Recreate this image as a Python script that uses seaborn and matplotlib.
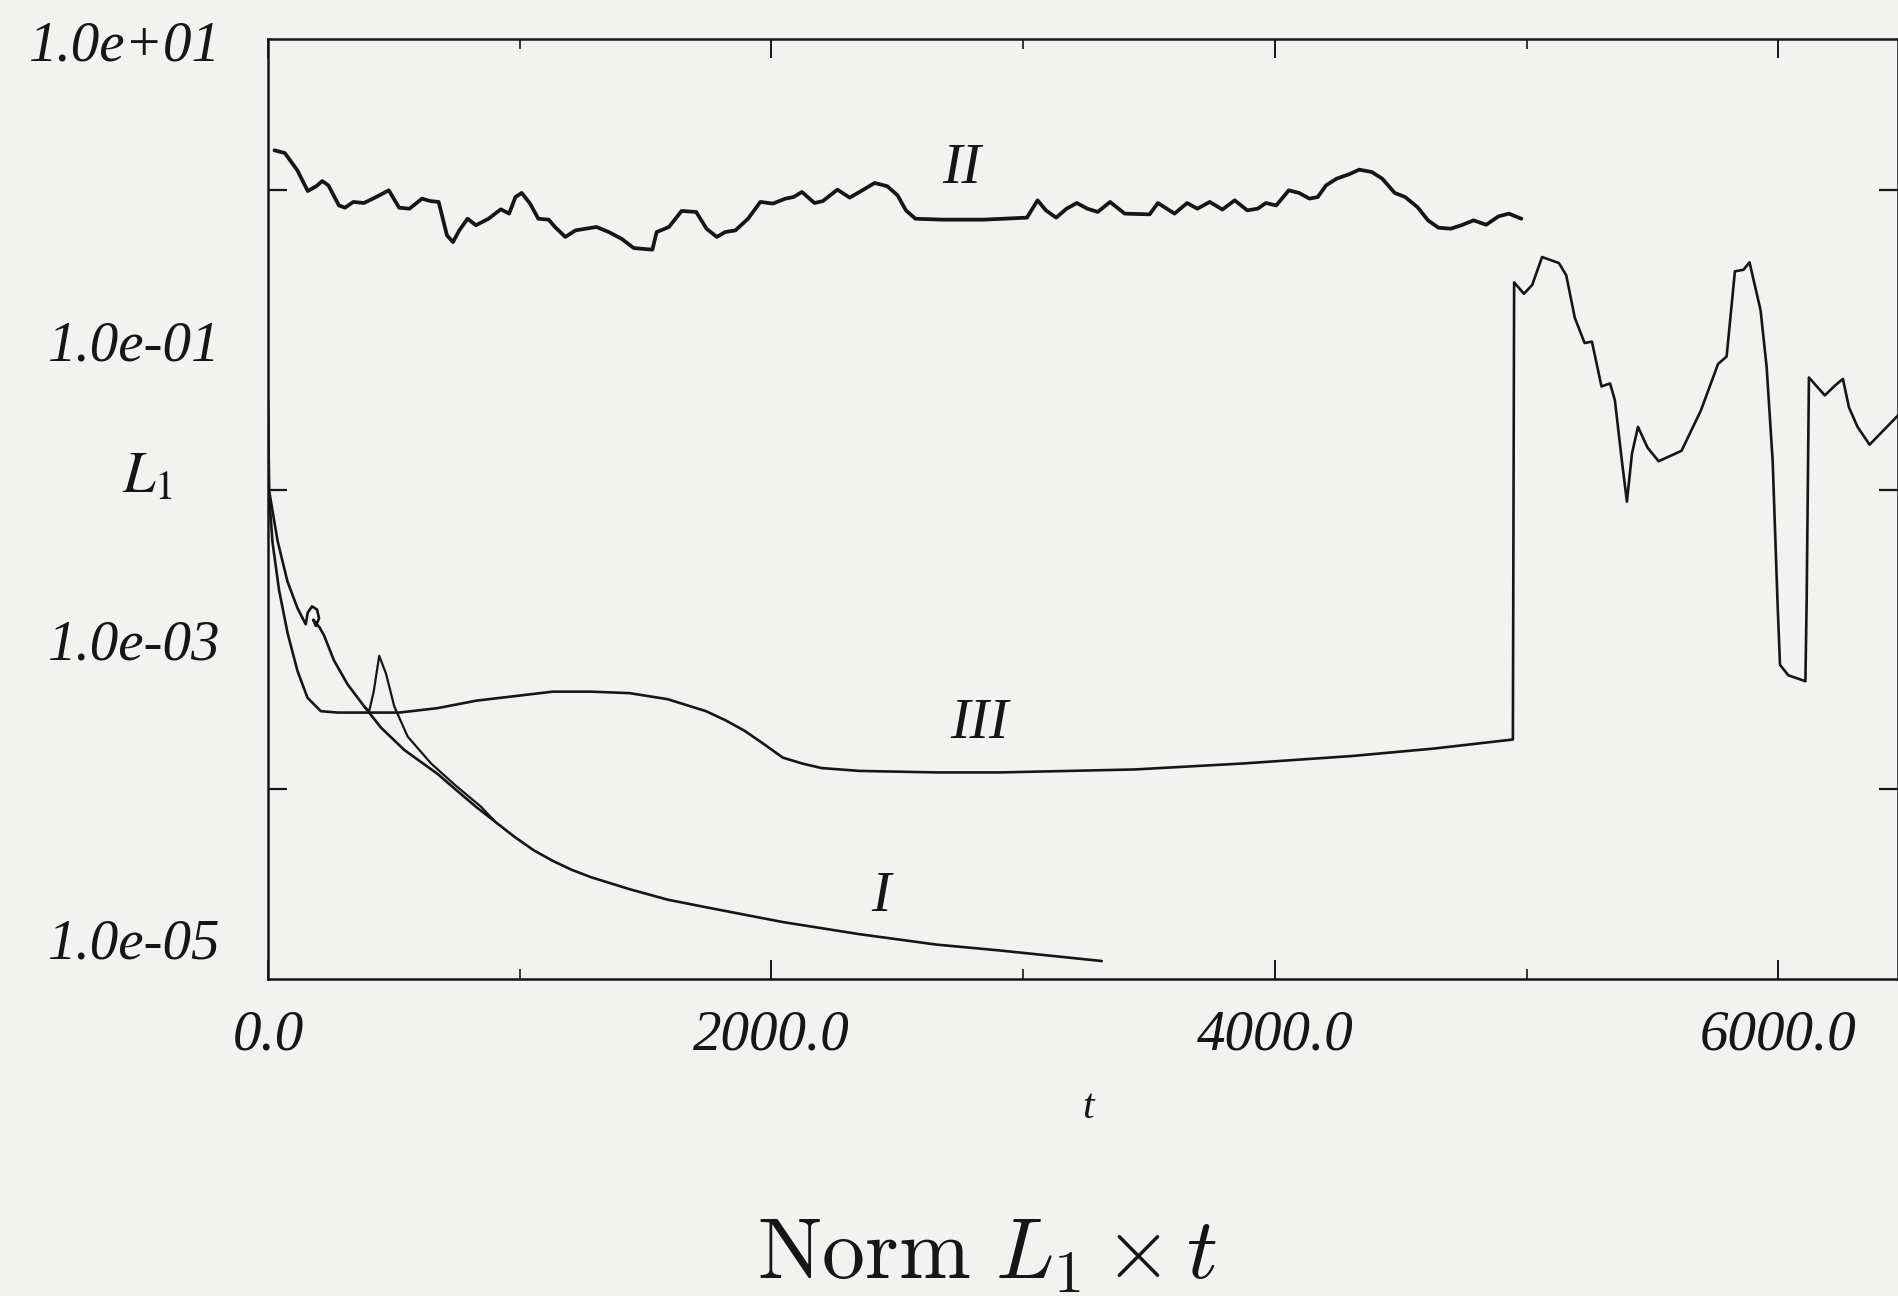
import matplotlib
matplotlib.use("Agg")
import matplotlib.pyplot as plt
import seaborn as sns
import pandas as pd
from matplotlib.ticker import FixedLocator, FixedFormatter, NullFormatter

# ---------------- data ----------------
# Curve II (upper, noisy)
t_II = [26, 67, 117, 158, 191, 216, 240, 282, 306, 339, 381, 430, 480, 521, 562,
        612, 645, 678, 711, 735, 760, 793, 826, 876, 925, 958, 983, 1008, 1041,
        1074, 1115, 1140, 1181, 1222, 1305, 1354, 1404, 1453, 1527, 1544, 1593,
        1643, 1701, 1742, 1783, 1816, 1857, 1907, 1956, 2006, 2055, 2088, 2121,
        2171, 2204, 2262, 2311, 2361, 2410, 2460, 2501, 2534, 2572, 2677, 2842,
        3015, 3057, 3090, 3131, 3172, 3213, 3255, 3296, 3345, 3403, 3502, 3535,
        3601, 3651, 3692, 3741, 3791, 3840, 3890, 3931, 3964, 4005, 4055, 4096,
        4137, 4170, 4203, 4245, 4294, 4335, 4385, 4426, 4476, 4517, 4566, 4608,
        4649, 4698, 4740, 4789, 4839, 4888, 4929, 4979]
L1_II = [1.854, 1.778, 1.361, 0.991, 1.064, 1.156, 1.081, 0.794, 0.767, 0.838,
         0.824, 0.904, 1.002, 0.767, 0.755, 0.881, 0.849, 0.838, 0.501, 0.452,
         0.541, 0.647, 0.585, 0.647, 0.748, 0.700, 0.904, 0.962, 0.817, 0.647,
         0.638, 0.570, 0.489, 0.541, 0.570, 0.527, 0.476, 0.412, 0.402, 0.527,
         0.570, 0.729, 0.718, 0.555, 0.489, 0.527, 0.541, 0.647, 0.838, 0.817,
         0.881, 0.904, 0.977, 0.824, 0.849, 1.012, 0.895, 1.002, 1.122, 1.067,
         0.927, 0.736, 0.647, 0.638, 0.638, 0.658, 0.859, 0.736, 0.658, 0.755,
         0.824, 0.755, 0.718, 0.838, 0.700, 0.692, 0.824, 0.700, 0.824, 0.755,
         0.838, 0.745, 0.859, 0.736, 0.755, 0.824, 0.794, 1.002, 0.962, 0.881,
         0.904, 1.081, 1.199, 1.282, 1.377, 1.327, 1.199, 0.962, 0.904, 0.774,
         0.631, 0.564, 0.555, 0.585, 0.631, 0.590, 0.671, 0.700, 0.647]

# Curve I (lower, decaying)
t_I = [0, 5, 38, 77, 117, 150, 158, 175, 195, 203, 190, 180, 205, 222, 262, 316,
       383, 449, 542, 674, 750, 827, 903, 979, 1056, 1131, 1207, 1284, 1436,
       1588, 1740, 2045, 2350, 2655, 2910, 3312]
L1_I = [3.98e-2, 9.77e-3, 4.57e-3, 2.45e-3, 1.62e-3, 1.26e-3, 1.51e-3, 1.66e-3,
        1.58e-3, 1.38e-3, 1.23e-3, 1.35e-3, 1.20e-3, 1.07e-3, 7.24e-4, 5.01e-4,
        3.55e-4, 2.57e-4, 1.82e-4, 1.26e-4, 9.77e-5, 7.59e-5, 6.03e-5, 4.79e-5,
        3.89e-5, 3.31e-5, 2.88e-5, 2.57e-5, 2.14e-5, 1.82e-5, 1.62e-5, 1.29e-5,
        1.07e-5, 9.12e-6, 8.32e-6, 7.08e-6]

# Unlabelled branch with the small spike (leaves curve I and rejoins it)
t_Ib = [383, 402, 420, 442, 469, 502, 555, 648, 741, 847, 903]
L1_Ib = [3.55e-4, 3.31e-4, 4.47e-4, 7.76e-4, 5.89e-4, 3.55e-4, 2.24e-4,
         1.48e-4, 1.07e-4, 7.59e-5, 6.03e-5]

# Curve III (plateau, then jump)
t_III = [0, 3, 18, 44, 78, 117, 157, 210, 277, 383, 522, 674, 827, 979, 1131,
         1284, 1436, 1588, 1740, 1817, 1893, 1969, 2045, 2122, 2198, 2350, 2655,
         2910, 3442, 3873, 4305, 4628, 4945, 4950, 4989, 5022, 5061, 5128, 5157,
         5191, 5230, 5259, 5297, 5331, 5350, 5379, 5398, 5418, 5442, 5480, 5524,
         5615, 5692, 5760, 5794, 5827, 5861, 5885, 5929, 5953, 5977, 5996, 6006,
         6039, 6107, 6112, 6121, 6184, 6227, 6256, 6280, 6314, 6362, 6483]
L1_III = [3.98e-2, 1.00e-2, 4.47e-3, 2.14e-3, 1.10e-3, 6.17e-4, 4.07e-4, 3.31e-4,
          3.24e-4, 3.24e-4, 3.24e-4, 3.47e-4, 3.89e-4, 4.17e-4, 4.47e-4, 4.47e-4,
          4.37e-4, 3.98e-4, 3.31e-4, 2.88e-4, 2.45e-4, 2.00e-4, 1.62e-4, 1.48e-4,
          1.38e-4, 1.32e-4, 1.29e-4, 1.29e-4, 1.35e-4, 1.48e-4, 1.66e-4, 1.86e-4,
          2.14e-4, 0.243, 0.204, 0.234, 0.359, 0.327, 0.271, 0.141, 0.0955,
          0.0977, 0.049, 0.0513, 0.0398, 0.0151, 8.32e-3, 0.0174, 0.0263, 0.0191,
          0.0155, 0.0182, 0.0339, 0.0692, 0.0776, 0.288, 0.295, 0.331, 0.158,
          0.0661, 0.0155, 1.82e-3, 6.76e-4, 5.75e-4, 5.25e-4, 1.82e-3, 0.0562,
          0.0427, 0.0501, 0.0550, 0.0355, 0.0263, 0.0200, 0.0324]

x_ticks = [0, 2000, 4000, 6000]
x_ticklabels = ["0.0", "2000.0", "4000.0", "6000.0"]
x_minor = [1000, 3000, 5000]
y_ticks = [1e1, 1e-1, 1e-3, 1e-5]
y_ticklabels = ["1.0e+01", "1.0e-01", "1.0e-03", "1.0e-05"]
y_minor = [1e0, 1e-2, 1e-4]

curve_labels = ["II", "III", "I"]
curve_label_pos = [(2756, 1.39), (2825, 2.7e-4), (2434, 1.9e-5)]

# ---------------- styling ----------------
bg = "#f2f2f1"
ink = "#161616"

sns.set_style("white")
plt.rcParams["font.family"] = ["Liberation Serif", "DejaVu Serif"]

fig = plt.figure(figsize=(18.99, 12.96), dpi=100)
fig.patch.set_facecolor(bg)
ax = fig.add_axes([0.1411, 0.2446, 0.8584, 0.7253])
ax.set_facecolor(bg)

series = [
    (t_II, L1_II, 2.7),
    (t_I, L1_I, 1.9),
    (t_Ib, L1_Ib, 1.6),
    (t_III, L1_III, 1.9),
]
for tt, vv, lw in series:
    df = pd.DataFrame({"t": tt, "L1": vv})
    sns.lineplot(data=df, x="t", y="L1", ax=ax, sort=False, estimator=None,
                 color=ink, linewidth=lw)

ax.set_yscale("log")
ax.set_xlim(0, 6475)
ax.set_ylim(10 ** -5.27, 10 ** 1.012)

for s in ax.spines.values():
    s.set_visible(True)
    s.set_color(ink)
    s.set_linewidth(1.8)

# y ticks: labels at odd decades, tick marks at even decades
ax.yaxis.set_major_locator(FixedLocator(y_ticks))
ax.yaxis.set_major_formatter(FixedFormatter(y_ticklabels))
ax.yaxis.set_minor_locator(FixedLocator(y_minor))
ax.yaxis.set_minor_formatter(NullFormatter())
ax.tick_params(axis="y", which="major", length=0, pad=34, labelsize=41,
               left=True, right=False)
ax.tick_params(axis="y", which="minor", direction="in", length=14, width=1.6,
               left=True, right=True, color=ink)

ax.xaxis.set_major_locator(FixedLocator(x_ticks))
ax.xaxis.set_major_formatter(FixedFormatter(x_ticklabels))
ax.xaxis.set_minor_locator(FixedLocator(x_minor))
ax.tick_params(axis="x", which="major", direction="in", length=14, width=1.4,
               top=True, bottom=True, pad=22, labelsize=41, color=ink)
ax.tick_params(axis="x", which="minor", direction="in", length=7, width=1.2,
               top=True, bottom=True, color=ink)
for lab in ax.get_xticklabels() + ax.get_yticklabels():
    lab.set_fontstyle("italic")
    lab.set_color(ink)

ax.set_xlabel("")
ax.set_ylabel("")

for txt, (xx, yy) in zip(curve_labels, curve_label_pos):
    ax.text(xx, yy, txt, fontsize=42, fontstyle="italic", color=ink,
            ha="center", va="center")

fig.text(148 / 1899, 1 - 478 / 1296, r"$L_{\mathit{1}}$", fontsize=42,
         math_fontfamily="stix", ha="center", va="center", color=ink)
fig.text(1088 / 1899, 1 - 1108 / 1296, "t", fontsize=30, fontstyle="italic",
         ha="center", va="center", color=ink)
fig.text(987 / 1899, 1 - 1278 / 1296, r"$\mathrm{Norm}\ L_1 \times t$",
         fontsize=62, math_fontfamily="cm", ha="center", va="baseline",
         color=ink)

fig.savefig("out.png", dpi=100, facecolor=bg)
